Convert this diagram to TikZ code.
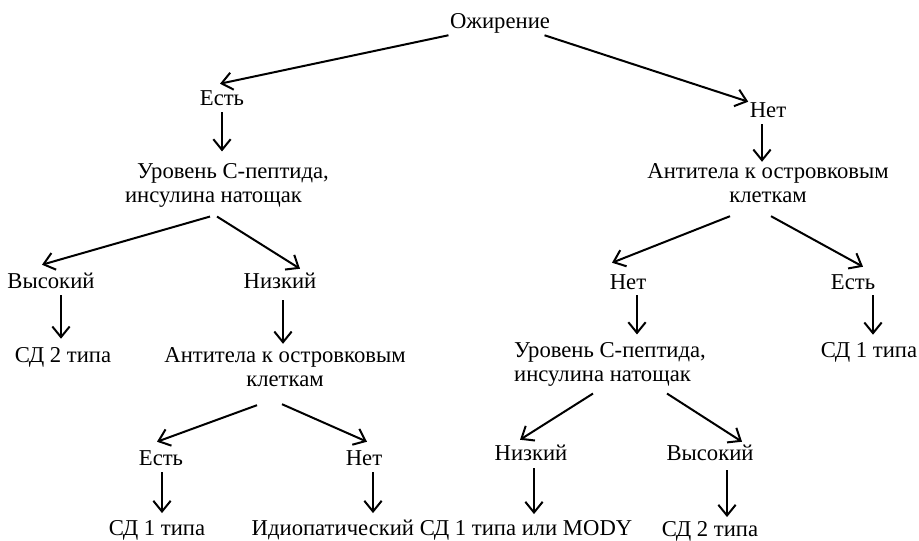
\documentclass[tikz,border=0pt]{standalone}
\usepackage{fontspec}
\setmainfont{Liberation Serif}
\usetikzlibrary{arrows.meta}

\tikzstyle{lbl}=[font=\fontsize{17}{18}\selectfont, inner sep=1pt, text height=11pt, text depth=3.5pt]
\tikzstyle{blk}=[font=\fontsize{17}{18}\selectfont, inner sep=1pt]
\tikzstyle{arr}=[-{Straight Barb[length=8pt,width=13pt]}, line width=1.5pt]

\begin{document}
\begin{tikzpicture}[x=0.75pt, y=-0.75pt]
  \useasboundingbox (0,0) rectangle (919,541);

  \node[lbl] (ozh)  at (500,24)  {Ожирение};
  \node[lbl] (est1) at (222,101) {Есть};
  \node[lbl] (net1) at (768,113) {Нет};
  \node[blk, align=left]   (lvl1) at (227,185) {\hspace*{9pt}Уровень С-пептида,\\инсулина натощак};
  \node[blk, align=center] (ab1)  at (768,183) {Антитела к островковым\\клеткам};
  \node[lbl] (vys1) at (51,283)  {Высокий};
  \node[lbl] (niz1) at (280,283) {Низкий};
  \node[lbl] (sd2a) at (63,357)  {СД 2 типа};
  \node[blk, align=center] (ab2)  at (285,367) {Антитела к островковым\\клеткам};
  \node[lbl] (net2) at (628,284) {Нет};
  \node[lbl] (est2) at (853,284) {Есть};
  \node[lbl] (sd1a) at (869,352) {СД 1 типа};
  \node[blk, align=left]   (lvl2) at (610,364) {Уровень С-пептида,\\инсулина натощак};
  \node[lbl] (est3) at (161,460) {Есть};
  \node[lbl] (net3) at (364,460) {Нет};
  \node[lbl] (niz2) at (531,455) {Низкий};
  \node[lbl] (vys2) at (710,455) {Высокий};
  \node[lbl] (sd1b) at (157,530) {СД 1 типа};
  \node[lbl] (idio) at (442,530) {Идиопатический СД 1 типа или MODY};
  \node[lbl] (sd2b) at (710,531) {СД 2 типа};

  % top level
  \draw[arr] (ozh.south west) -- ([shift={(-2,-6)}]est1.north);
  \draw[arr] ([shift={(-7,0)}]ozh.south east) -- (net1.north west);
  \draw[arr, shorten >=7.5pt] (est1.south) -- (est1.south |- lvl1.north);
  \draw[arr] ([shift={(-6,0)}]net1.south) -- ([shift={(-6,0)}]net1.south |- ab1.north);

  % left branch
  \draw[arr] ([shift={(-17,8)}]lvl1.south) -- ([shift={(-9,-7)}]vys1.north);
  \draw[arr] ([shift={(-10,8)}]lvl1.south) -- ([shift={(20,-3)}]niz1.north);
  \draw[arr, shorten >=6pt] ([shift={(10,1)}]vys1.south) -- ([shift={(10,1)}]vys1.south |- sd2a.north);
  \draw[arr, shorten >=6pt] ([shift={(3,6)}]niz1.south) -- ([shift={(3,6)}]niz1.south |- ab2.north);
  \draw[arr] ([shift={(-28,17)}]ab2.south) -- ([shift={(-4,-7)}]est3.north);
  \draw[arr] ([shift={(-3,16)}]ab2.south) -- ([shift={(3,-7)}]net3.north);
  \draw[arr, shorten >=5pt] ([shift={(1,1)}]est3.south) -- ([shift={(1,1)}]est3.south |- sd1b.north);
  \draw[arr, shorten >=5pt] ([shift={(9,1)}]net3.south) -- ([shift={(9,1)}]net3.south |- idio.north);

  % right branch
  \draw[arr] ([shift={(-38,12)}]ab1.south) -- ([shift={(-16,-10)}]net2.north);
  \draw[arr] ([shift={(3,12)}]ab1.south) -- ([shift={(10,-6)}]est2.north);
  \draw[arr, shorten >=4.5pt] ([shift={(9,0)}]net2.south) -- ([shift={(9,0)}]net2.south |- lvl2.north);
  \draw[arr, shorten >=4.5pt] ([shift={(20,0)}]est2.south) -- ([shift={(20,0)}]est2.south |- sd1a.north);
  \draw[arr] ([shift={(-17,6)}]lvl2.south) -- ([shift={(-11,-4)}]niz2.north);
  \draw[arr] ([shift={(57,6)}]lvl2.south) -- ([shift={(32,-2)}]vys2.north);
  \draw[arr, shorten >=5pt] ([shift={(3,2)}]niz2.south) -- ([shift={(3,2)}]niz2.south |- idio.north);
  \draw[arr, shorten >=5pt] ([shift={(17,4)}]vys2.south) -- ([shift={(17,4)}]vys2.south |- sd2b.north);
\end{tikzpicture}
\end{document}
